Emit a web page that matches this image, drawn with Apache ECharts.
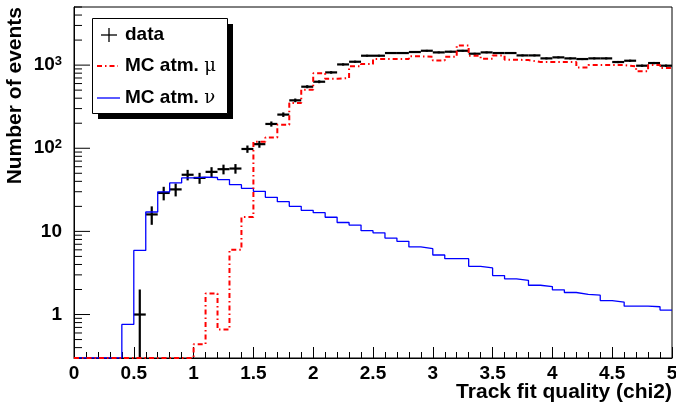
<!DOCTYPE html>
<html><head><meta charset="utf-8">
<script src="https://cdn.jsdelivr.net/npm/echarts@6/dist/echarts.min.js"></script>
<style>html,body{margin:0;padding:0;background:#fff}#c{width:676px;height:408px}</style>
</head><body><div id="c"></div>
<script>
// ---- data (bin width 0.1, 50 bins from 0 to 5) ----
const binCenters = [0.05,0.15,0.25,0.35,0.45,0.55,0.65,0.75,0.85,0.95,
  1.05,1.15,1.25,1.35,1.45,1.55,1.65,1.75,1.85,1.95,
  2.05,2.15,2.25,2.35,2.45,2.55,2.65,2.75,2.85,2.95,
  3.05,3.15,3.25,3.35,3.45,3.55,3.65,3.75,3.85,3.95,
  4.05,4.15,4.25,4.35,4.45,4.55,4.65,4.75,4.85,4.95];
const dataCounts = [0,0,0,0,0,1,16,29,32,48,
  44,52,56,57,98,112,196,254,377,550,
  631,817,1019,1098,1297,1297,1397,1397,1437,1488,
  1422,1449,1488,1371,1422,1397,1397,1308,1308,1205,
  1239,1205,1183,1205,1205,1089,1129,984,1059,984];
const mcMu = [0,0,0,0,0,0,0,0,0,0,
  0.44,1.79,0.66,6.0,14.9,120,135,192,350,506,
  800,687,700,966,1031,1183,1183,1183,1274,1260,
  1140,1260,1726,1297,1194,1308,1161,1150,1089,1089,
  1089,1089,939,1000,1000,1000,966,841,1000,922];
const mcNu = [0,0,0,0,0.76,5.9,17.1,29.9,38.3,44,
  45,44.5,42,36.5,33,30.3,25.7,22.8,20,17.9,
  16.8,14.8,12.8,11.9,10.2,9.6,8.3,7.6,6.5,6.2,
  5.2,4.7,4.7,3.8,3.64,2.94,2.69,2.58,2.25,2.17,
  1.98,1.84,1.75,1.71,1.47,1.41,1.26,1.26,1.24,1.13];
const yDecades = [1, 10, 100, 1000];
const xTitle = 'Track fit quality (chi2)';
const yTitle = 'Number of events';
const legendLabels = ['data', 'MC atm. ', 'MC atm. '];

// ---- construction ----
const BIN_W = 0.1, X_MIN = 0, X_MAX = 5, Y_MIN = 0.3, Y_MAX = 5000;
const FONT = '"Liberation Sans", Arial, Helvetica, sans-serif';
function stepData(vals) {
  const out = vals.map((v, i) => [binCenters[i] - BIN_W / 2, v > 0 ? v : Y_MIN]);
  const last = vals[vals.length - 1];
  out.push([binCenters[binCenters.length - 1] + BIN_W / 2, last > 0 ? last : Y_MIN]);
  return out;
}
const dataPts = [];
dataCounts.forEach((v, i) => { if (v > 0) dataPts.push([binCenters[i], v]); });

const yTicks = [];
yDecades.concat([0.1]).forEach(d => {
  for (let m = 1; m <= 9; m++) {
    const v = d * m;
    if (v >= Y_MIN - 1e-9 && v <= Y_MAX + 1e-9) yTicks.push([v, m === 1 ? 1 : 0]);
  }
});

const chart = echarts.init(document.getElementById('c'), null, {renderer: 'canvas'});
chart.setOption({
  animation: false,
  backgroundColor: '#fff',
  grid: {left: 74, right: 4, top: 7, bottom: 50, containLabel: false, outerBoundsMode: 'none',
    show: true, borderColor: '#000', borderWidth: 1, backgroundColor: 'transparent'},
  xAxis: {
    type: 'value', min: X_MIN, max: X_MAX, interval: 0.5,
    axisLine: {lineStyle: {color: '#000', width: 1}},
    axisTick: {inside: true, length: 11, lineStyle: {color: '#000'}},
    minorTick: {show: true, splitNumber: 5, length: 6, lineStyle: {color: '#000'}},
    splitLine: {show: false},
    axisLabel: {color: '#000', fontFamily: FONT, fontWeight: 'bold', fontSize: 19, margin: 6,
      hideOverlap: false,
      formatter: v => String(Math.round(v * 10) / 10)}
  },
  yAxis: {
    type: 'log', logBase: 10, min: Y_MIN, max: Y_MAX,
    axisLine: {lineStyle: {color: '#000', width: 1}},
    axisTick: {show: false},
    splitLine: {show: false},
    axisLabel: {color: '#000', fontFamily: FONT, fontWeight: 'bold', fontSize: 19, margin: 12,
      showMinLabel: false, showMaxLabel: false,
      formatter: v => {
        const l = Math.log10(v), k = Math.round(l);
        if (Math.abs(l - k) > 1e-6) return '';
        if (k === 0) return '1';
        if (k === 1) return '10';
        return '10{s|' + k + '}';
      },
      rich: {s: {fontFamily: FONT, fontWeight: 'bold', fontSize: 13, verticalAlign: 'top', padding: [0, 0, 8, 0], color: '#000'}}
    }
  },
  series: [
    {
      type: 'custom', name: 'yticks', silent: true, clip: false,
      data: yTicks,
      renderItem: (params, api) => {
        const p = api.coord([X_MIN, api.value(0)]);
        const len = api.value(1) ? 16 : 8;
        return {type: 'line', shape: {x1: p[0], y1: p[1], x2: p[0] + len, y2: p[1]}, style: {stroke: '#000', lineWidth: 1}};
      }
    },
    {
      type: 'line', name: 'MC atm. nu', step: 'end', showSymbol: false, symbol: 'none',
      data: stepData(mcNu),
      lineStyle: {color: '#0000ff', width: 1.3}
    },
    {
      type: 'line', name: 'MC atm. mu', step: 'end', showSymbol: false, symbol: 'none',
      data: stepData(mcMu),
      lineStyle: {color: '#ff0000', width: 2, type: [5, 3, 1.5, 3]}
    },
    {
      type: 'custom', name: 'data', clip: true,
      data: dataPts,
      renderItem: (params, api) => {
        const x = api.value(0), v = api.value(1);
        const err = Math.sqrt(v);
        const lo = Math.max(v - err, Y_MIN), hi = v + err;
        const pL = api.coord([x - BIN_W / 2, v]), pR = api.coord([x + BIN_W / 2, v]);
        const pLo = api.coord([x, lo]), pHi = api.coord([x, hi]);
        return {type: 'group', children: [
          {type: 'line', shape: {x1: pL[0], y1: pL[1], x2: pR[0], y2: pR[1]}, style: {stroke: '#000', lineWidth: 2.2}},
          {type: 'line', shape: {x1: pLo[0], y1: pLo[1], x2: pHi[0], y2: pHi[1]}, style: {stroke: '#000', lineWidth: 2.2}}
        ]};
      }
    }
  ],
  graphic: [
    {type: 'text', right: 4, top: 382, style: {text: xTitle, fill: '#000', font: 'bold 21px ' + FONT, textAlign: 'right'}},
    {type: 'text', left: 5, top: 7, rotation: Math.PI / 2, originX: 0, originY: 0,
      style: {text: yTitle, fill: '#000', font: 'bold 21px ' + FONT}},
    {type: 'group', left: 92, top: 18, children: [
      {type: 'rect', shape: {x: 6, y: 6, width: 135, height: 95}, style: {fill: '#000'}},
      {type: 'rect', shape: {x: 0.5, y: 0.5, width: 135, height: 95}, style: {fill: '#fff', stroke: '#000', lineWidth: 1}},
      {type: 'line', shape: {x1: 9, y1: 17, x2: 25, y2: 17}, style: {stroke: '#000', lineWidth: 1.3}},
      {type: 'line', shape: {x1: 17, y1: 10, x2: 17, y2: 24}, style: {stroke: '#000', lineWidth: 1.3}},
      {type: 'text', x: 33, y: 17, style: {text: legendLabels[0], fill: '#000', font: 'bold 19px ' + FONT, textVerticalAlign: 'middle'}},
      {type: 'line', shape: {x1: 5, y1: 48, x2: 26, y2: 48}, style: {stroke: '#ff0000', lineWidth: 2, lineDash: [5, 3, 1.5, 3]}},
      {type: 'text', x: 33, y: 48, style: {text: legendLabels[1] + '{g|μ}', fill: '#000', font: 'bold 19px ' + FONT, textVerticalAlign: 'middle',
        rich: {g: {fontFamily: '"DejaVu Serif", serif', fontSize: 18, fontWeight: 'normal', fill: '#000'}}}},
      {type: 'line', shape: {x1: 5, y1: 80, x2: 28, y2: 80}, style: {stroke: '#0000ff', lineWidth: 1.3}},
      {type: 'text', x: 33, y: 80, style: {text: legendLabels[2] + '{g|ν}', fill: '#000', font: 'bold 19px ' + FONT, textVerticalAlign: 'middle',
        rich: {g: {fontFamily: '"DejaVu Serif", serif', fontSize: 18, fontWeight: 'normal', fill: '#000'}}}}
    ]}
  ]
});
</script>
</body></html>
